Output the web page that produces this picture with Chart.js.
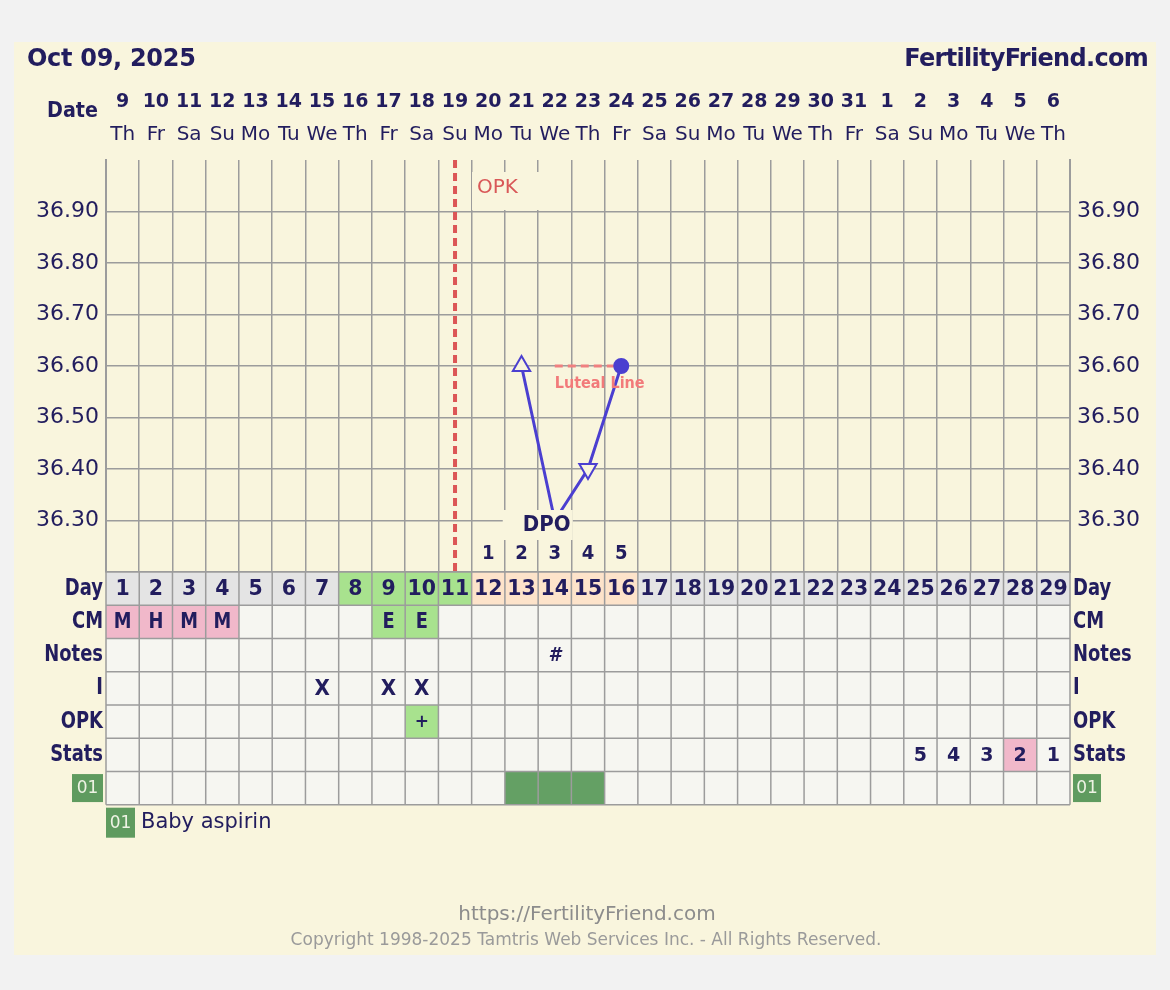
<!DOCTYPE html>
<html>
<head>
<meta charset="UTF-8">
<title>Fertility Chart</title>
<script src="https://cdn.jsdelivr.net/npm/chart.js@4.4.1/dist/chart.umd.min.js"></script>
<style>
  body { margin: 0; background: #f2f2f2; }
  canvas { display: block; }
</style>
</head>
<body>
<canvas id="ffChart" width="1170" height="990"></canvas>
<script>
// --- chart data ---
const dates = ['9','10','11','12','13','14','15','16','17','18','19','20','21','22','23','24','25','26','27','28','29','30','31','1','2','3','4','5','6'];
const weekdays = ['Th','Fr','Sa','Su','Mo','Tu','We','Th','Fr','Sa','Su','Mo','Tu','We','Th','Fr','Sa','Su','Mo','Tu','We','Th','Fr','Sa','Su','Mo','Tu','We','Th'];
const cycleDays = ['1','2','3','4','5','6','7','8','9','10','11','12','13','14','15','16','17','18','19','20','21','22','23','24','25','26','27','28','29'];
const temps = [null,null,null,null,null,null,null,null,null,null,null,null,36.60,36.30,36.40,36.60,null,null,null,null,null,null,null,null,null,null,null,null,null];
const tempMark = [null,null,null,null,null,null,null,null,null,null,null,null,'up',null,'down','dot',null,null,null,null,null,null,null,null,null,null,null,null,null];
const lutealLine = [null,null,null,null,null,null,null,null,null,null,null,null,null,36.60,36.60,36.60,null,null,null,null,null,null,null,null,null,null,null,null,null];
const tempTicks = ['36.30','36.40','36.50','36.60','36.70','36.80','36.90'];
const ovulationDay = 11;
const dpoDays = [12,13,14,15,16];
const dpoLabels = ['1','2','3','4','5'];
const dayPhase = ['','','','','','','','fertile','fertile','fertile','fertile','luteal','luteal','luteal','luteal','luteal','','','','','','','','','','','','',''];
const cm = ['M','H','M','M','','','','','E','E','','','','','','','','','','','','','','','','','','',''];
const notes = ['','','','','','','','','','','','','','#','','','','','','','','','','','','','','',''];
const intercourse = ['','','','','','','X','','X','X','','','','','','','','','','','','','','','','','','',''];
const opk = ['','','','','','','','','','+','','','','','','','','','','','','','','','','','','',''];
const stats = ['','','','','','','','','','','','','','','','','','','','','','','','','5','4','3','2','1'];
const statsFlag = [0,0,0,0,0,0,0,0,0,0,0,0,0,0,0,0,0,0,0,0,0,0,0,0,0,0,0,1,0];
const aspirin = [0,0,0,0,0,0,0,0,0,0,0,0,1,1,1,0,0,0,0,0,0,0,0,0,0,0,0,0,0];

const NAVY = '#221d5e';
const CREAM = '#f9f5dd';
const GRID = '#9c9c9c';
const BLUE = '#4b3fd0';
const CELL = '#f6f6f1';
const PINK = '#f1b8ca';
const GREEN = '#a8e28e';
const DARKGREEN = '#64a064';

function txt(c, s, x, y, o) {
  c.save();
  c.font = o.font;
  c.fillStyle = o.color || NAVY;
  c.textAlign = o.align || 'left';
  c.textBaseline = 'middle';
  if (o.ls) c.letterSpacing = o.ls;
  c.translate(x, y);
  c.scale(o.sx || 1, 1);
  c.fillText(s, 0, 0);
  c.restore();
}

function badge(c, x, y, w, h) {
  c.fillStyle = '#5f9b5f';
  c.fillRect(x, y, w, h);
  txt(c, '01', x + w / 2, y + h / 2 + 1, {font: '17px "DejaVu Sans"', color: '#eef3e4', align: 'center'});
}

const BOLD = '"DejaVu Sans"';
const rows = [
  {name: 'Day', vals: cycleDays, fill: i => dayPhase[i] === 'fertile' ? GREEN : dayPhase[i] === 'luteal' ? '#fde3ca' : '#e4e4e4', font: 'bold 22px ' + BOLD, sx: 0.93},
  {name: 'CM', vals: cm, fill: i => cm[i] === 'E' ? GREEN : cm[i] ? PINK : CELL, font: 'bold 21px ' + BOLD, sx: 0.85},
  {name: 'Notes', vals: notes, fill: () => CELL, font: 'italic bold 20px ' + BOLD, sx: 0.9},
  {name: 'I', vals: intercourse, fill: () => CELL, font: 'bold 21px ' + BOLD, sx: 0.95},
  {name: 'OPK', vals: opk, fill: i => opk[i] ? GREEN : CELL, font: 'bold 17px ' + BOLD, sx: 1},
  {name: 'Stats', vals: stats, fill: i => statsFlag[i] ? PINK : CELL, font: 'bold 20px ' + BOLD, sx: 0.95},
  {name: '01', vals: null, fill: i => aspirin[i] ? DARKGREEN : CELL}
];

const ffPlugin = {
  id: 'ffExtras',
  beforeDraw(chart) {
    const c = chart.ctx;
    c.save();
    c.fillStyle = '#f2f2f2';
    c.fillRect(0, 0, chart.width, chart.height);
    c.fillStyle = CREAM;
    c.fillRect(14, 42, 1142, 913);
    c.restore();
  },
  afterDatasetsDraw(chart) {
    const c = chart.ctx, x = chart.scales.x, y = chart.scales.y, a = chart.chartArea;
    c.save();
    // ovulation line
    const ox = x.getPixelForValue(ovulationDay - 1);
    c.strokeStyle = '#dc5656';
    c.lineWidth = 4;
    c.setLineDash([8, 5]);
    c.beginPath();
    c.moveTo(ox, a.top);
    c.lineTo(ox, a.bottom);
    c.stroke();
    c.setLineDash([]);
    c.fillStyle = CREAM;
    c.fillRect(ox + 17, a.top + 12, 70, 38);
    txt(c, 'OPK', ox + 22, a.top + 28, {font: '20px "DejaVu Sans"', color: '#d95858'});

    // luteal label
    const lx = x.getPixelForValue(lutealLine.findIndex(v => v !== null));
    txt(c, 'Luteal Line', lx, y.getPixelForValue(36.60) + 18, {font: 'bold 16px ' + BOLD, color: '#f27a7a', sx: 0.9});

    // DPO box and numbers
    const mid = x.getPixelForValue(dpoDays[2] - 1);
    c.fillStyle = CREAM;
    c.fillRect(mid - 52, a.bottom - 62, 70, 30);
    txt(c, 'DPO', mid - 8, a.bottom - 47, {font: 'bold 22px ' + BOLD, align: 'center', sx: 0.9});
    dpoDays.forEach((d, k) => {
      txt(c, dpoLabels[k], x.getPixelForValue(d - 1), a.bottom - 18, {font: 'bold 19px ' + BOLD, align: 'center', sx: 0.95});
    });
    c.restore();
  },
  afterDraw(chart) {
    const c = chart.ctx, x = chart.scales.x, a = chart.chartArea;
    const n = dates.length, w = x.width / n, top0 = a.bottom;
    c.save();
    // cells
    rows.forEach((row, r) => {
      const ry = top0 + r * w;
      for (let i = 0; i < n; i++) {
        c.fillStyle = row.fill(i);
        c.fillRect(x.getPixelForValue(i) - w / 2, ry, w, w);
      }
    });
    c.strokeStyle = GRID;
    c.lineWidth = 1.5;
    c.beginPath();
    for (let r = 0; r <= rows.length; r++) {
      c.moveTo(a.left, top0 + r * w);
      c.lineTo(a.right, top0 + r * w);
    }
    for (let i = 0; i <= n; i++) {
      const vx = x.getPixelForValue(0) - w / 2 + i * w;
      c.moveTo(vx, top0);
      c.lineTo(vx, top0 + rows.length * w);
    }
    c.stroke();
    // cell text + row labels
    rows.forEach((row, r) => {
      const cy = top0 + r * w + w / 2 + 1;
      if (row.vals) {
        row.vals.forEach((v, i) => {
          if (v) txt(c, v, x.getPixelForValue(i), cy, {font: row.font, align: 'center', sx: row.sx});
        });
        txt(c, row.name, a.left - 3, cy - 1, {font: 'bold 23px ' + BOLD, align: 'right', sx: 0.78});
        txt(c, row.name, a.right + 3, cy - 1, {font: 'bold 23px ' + BOLD, sx: 0.78});
      } else {
        badge(c, a.left - 34, cy - 15, 31, 28);
        badge(c, a.right + 3, cy - 15, 28, 28);
      }
    });
    // legend
    const ly = top0 + rows.length * w;
    badge(c, a.left, ly + 3, 29, 30);
    txt(c, 'Baby aspirin', a.left + 35, ly + 18, {font: '21px "DejaVu Sans"'});

    // header
    txt(c, 'Oct 09, 2025', 27, 60, {font: 'bold 24px ' + BOLD, ls: '-0.3px'});
    txt(c, 'FertilityFriend.com', 1148, 60, {font: 'bold 24px ' + BOLD, align: 'right', ls: '-0.7px'});
    txt(c, 'Date', 98, 111, {font: 'bold 22px ' + BOLD, align: 'right', sx: 0.87});

    // footer
    txt(c, 'https://FertilityFriend.com', 587, 915, {font: '20px "DejaVu Sans"', color: '#8c8c8c', align: 'center'});
    txt(c, 'Copyright 1998-2025 Tamtris Web Services Inc. - All Rights Reserved.', 586, 941, {font: '17px "DejaVu Sans"', color: '#9a9a9a', align: 'center'});
    c.restore();
  }
};

const tickLabel = v => {
  const s = Number(v).toFixed(2);
  return tempTicks.includes(s) ? s : '';
};

const ctx = document.getElementById('ffChart').getContext('2d');
const chart = new Chart(ctx, {
  type: 'line',
  data: {
    labels: dates,
    datasets: [{
      label: 'Temperature',
      data: temps,
      borderColor: BLUE,
      borderWidth: 3,
      pointStyle: tempMark.map(m => m === 'dot' ? 'circle' : 'triangle'),
      pointRotation: tempMark.map(m => m === 'down' ? 180 : 0),
      pointRadius: tempMark.map(m => !m ? 0 : m === 'dot' ? 7 : 10),
      pointBackgroundColor: tempMark.map(m => m === 'dot' ? BLUE : CREAM),
      pointBorderColor: BLUE,
      pointBorderWidth: 2
    }, {
      label: 'Luteal Line',
      data: lutealLine,
      borderColor: '#f08080',
      borderWidth: 3,
      borderDash: [8, 5],
      pointRadius: 0
    }]
  },
  plugins: [ffPlugin],
  options: {
    responsive: false,
    animation: false,
    events: [],
    layout: {padding: {top: 0, left: 0, right: 0, bottom: 418}},
    plugins: {legend: {display: false}, tooltip: {enabled: false}},
    scales: {
      x: {
        type: 'category',
        position: 'top',
        labels: dates,
        weight: 1,
        offset: true,
        grid: {offset: true, color: GRID, lineWidth: 1.5, drawTicks: false},
        border: {display: false},
        ticks: {autoSkip: false, maxRotation: 0, padding: 7, color: NAVY, font: {family: 'DejaVu Sans', weight: 'bold', size: 19}},
        afterFit: s => { s.height = 120; }
      },
      xw: {
        type: 'category',
        position: 'top',
        labels: weekdays,
        weight: 0,
        offset: true,
        grid: {display: false},
        border: {display: false},
        ticks: {autoSkip: false, maxRotation: 0, padding: 5, color: NAVY, font: {family: 'DejaVu Sans', size: 20}},
        afterFit: s => { s.height = 40; }
      },
      y: {
        position: 'left',
        min: 36.2,
        max: 37.0,
        ticks: {stepSize: 0.05, callback: tickLabel, padding: 7, color: NAVY, font: {family: 'DejaVu Sans', size: 22}},
        grid: {color: c => (c.tick && c.tick.value > 36.99) ? 'rgba(0,0,0,0)' : GRID, lineWidth: 1.5, drawTicks: false},
        border: {color: GRID, width: 2},
        afterFit: s => { s.width = 106; }
      },
      y2: {
        position: 'right',
        min: 36.2,
        max: 37.0,
        ticks: {stepSize: 0.05, callback: tickLabel, padding: 7, color: NAVY, font: {family: 'DejaVu Sans', size: 22}},
        grid: {display: false, drawTicks: false},
        border: {color: GRID, width: 2},
        afterFit: s => { s.width = 100; }
      }
    }
  }
});
</script>
</body>
</html>
